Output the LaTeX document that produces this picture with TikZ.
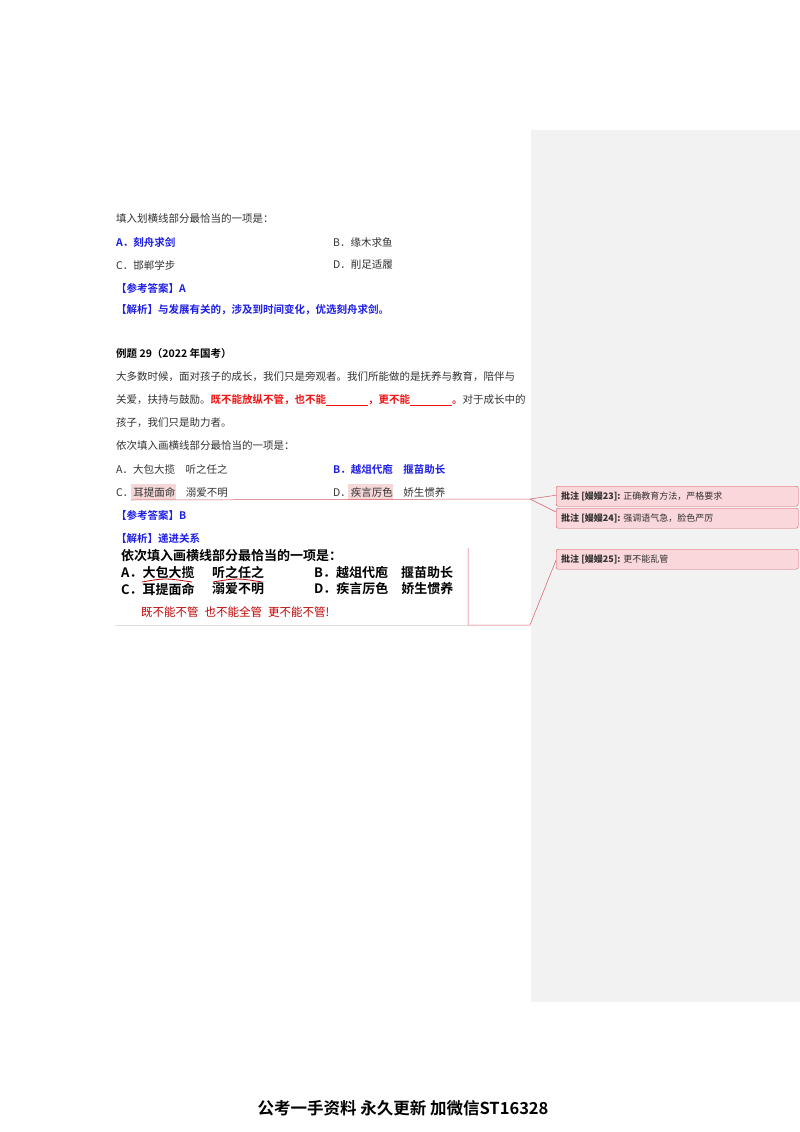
\documentclass[tikz,border=0pt]{standalone}
\usepackage{fontspec}
\setmainfont{Liberation Serif}
\newfontfamily\cjk{Noto Sans CJK SC}
\newfontfamily\cjkb{Noto Sans CJK SC Bold}
\definecolor{ablue}{RGB}{30,30,230}
\definecolor{ared}{RGB}{240,20,20}
\definecolor{cmtline}{RGB}{215,90,100}
\definecolor{cmtfill}{RGB}{250,215,218}
\definecolor{panel}{RGB}{242,242,242}
\definecolor{hl}{RGB}{245,215,215}
\definecolor{ink}{RGB}{50,50,50}
\tikzset{
 txt/.style={anchor=west,inner sep=0pt,font=\fontsize{10.5}{12}\selectfont\cjk,text=ink},
 bl/.style={txt,text=ablue,font=\fontsize{10.5}{12}\selectfont\cjkb},
 cmt/.style={draw=cmtline,fill=cmtfill,rounded corners=2pt,minimum width=242pt,minimum height=20pt,anchor=north west,inner sep=0pt},
 cmttxt/.style={anchor=west,inner sep=0pt,font=\fontsize{9}{10}\selectfont\cjk,text=ink},
 pic/.style={anchor=west,inner sep=0pt,font=\fontsize{13}{15}\selectfont\cjkb,text=black},
 conn/.style={draw=cmtline,line width=0.5pt}
}
\begin{document}
\begin{tikzpicture}[x=1pt,y=-1pt]
\useasboundingbox (0,0) rectangle (800,1132);
\fill[white] (0,0) rectangle (800,1132);
\fill[panel] (531,130) rectangle (800,1002);
% question 1
\node[txt] (q1) at (116,219) {填入划横线部分最恰当的一项是：};
\node[bl] (a1) at (116,242) {A．刻舟求剑};
\node[txt] (b1) at (333,242) {B．缘木求鱼};
\node[txt] (c1) at (116,265) {C．邯郸学步};
\node[txt] (d1) at (333,265) {D．削足适履};
\node[bl] (ans1) at (116,288) {【参考答案】A};
\node[bl] (ex1) at (116,310) {【解析】与发展有关的，涉及到时间变化，优选刻舟求剑。};
% question 2
\node[txt,text=black,font=\fontsize{10.5}{12}\selectfont\cjkb] (t2) at (116,354) {例题 29（2022 年国考）};
\node[txt] (p1) at (116,377) {大多数时候，面对孩子的成长，我们只是旁观者。我们所能做的是抚养与教育，陪伴与};
\node[txt] (p2) at (116,400) {关爱，扶持与鼓励。{\cjkb\color{ared}既不能放纵不管，也不能\underline{\hspace{42pt}}，更不能\underline{\hspace{42pt}}。}对于成长中的};
\node[txt] (p3) at (116,423) {孩子，我们只是助力者。};
\node[txt] (q2) at (116,446) {依次填入画横线部分最恰当的一项是：};
\node[txt] (a2) at (116,469) {A．大包大揽\quad 听之任之};
\node[bl] (b2) at (333,469) {B．越俎代庖\quad 揠苗助长};
\fill[hl] (131,484) rectangle (176,500);
\fill[hl] (348,484) rectangle (393,500);
\node[txt] (c2) at (116,492) {C．耳提面命\quad 溺爱不明};
\node[txt] (d2) at (333,492) {D．疾言厉色\quad 娇生惯养};
\node[bl] (ans2) at (116,515) {【参考答案】B};
\node[bl] (ex2) at (116,538) {【解析】递进关系};
% picture excerpt
\node[pic] (i1) at (121,556) {依次填入画横线部分最恰当的一项是：};
\node[pic] (i2) at (121,573) {A．大包大揽};
\node[pic] (i3) at (212,573) {听之任之};
\node[pic] (i4) at (314,573) {B．越俎代庖\quad 揠苗助长};
\node[pic] (i5) at (121,589) {C．耳提面命};
\node[pic] (i6) at (212,589) {溺爱不明};
\node[pic] (i7) at (314,589) {D．疾言厉色\quad 娇生惯养};
\draw[red!75!black,line width=0.8pt] (142,582) .. controls (165,578) .. (192,582);
\draw[red!75!black,line width=0.8pt] (213,582) .. controls (237,578) .. (262,582);
\node[anchor=west,inner sep=0pt,font=\fontsize{11.5}{13}\selectfont\cjk,text=red!75!black] (i8) at (141,612) {既不能不管\hspace{6pt}也不能全管\hspace{6pt}更不能不管!};
\draw[gray!25,line width=0.4pt] (115,625) -- (468,625);
% comments
\node[cmt] (k1) at (556,486) {};
\node[cmttxt] at ([xshift=5pt]k1.west) {\textbf{批注 [嫚嫚23]:} 正确教育方法，严格要求};
\node[cmt] (k2) at (556,508) {};
\node[cmttxt] at ([xshift=5pt]k2.west) {\textbf{批注 [嫚嫚24]:} 强调语气急，脸色严厉};
\node[cmt] (k3) at (556,549) {};
\node[cmttxt] at ([xshift=5pt]k3.west) {\textbf{批注 [嫚嫚25]:} 更不能乱管};
\coordinate (j1) at (530,499);
\coordinate (j2) at (530,625);
\draw[conn] (131,500) -- (j1) -- ([yshift=1pt]k1.west);
\draw[conn] (j1) -- ([yshift=-4pt]k2.north west);
\draw[conn] (468,548) -- (468,625) -- (j2) -- ([yshift=-1pt]k3.west);
% footer
\node[anchor=center,inner sep=0pt,font=\fontsize{16.5}{18}\selectfont\cjkb] (f) at (403,1108) {公考一手资料\ 永久更新\ 加微信ST16328};
\end{tikzpicture}
\end{document}
